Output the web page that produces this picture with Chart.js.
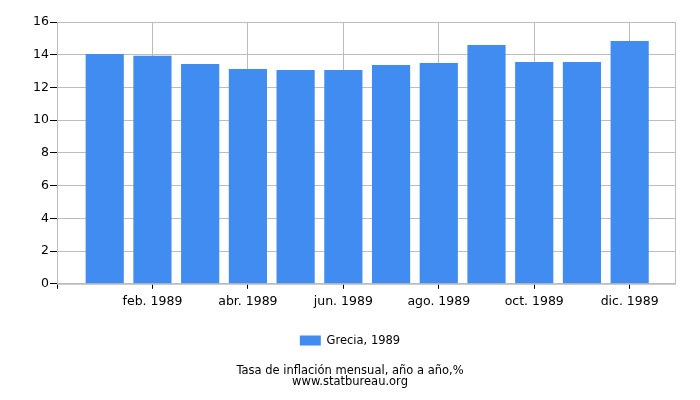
<!DOCTYPE html>
<html>
<head>
<meta charset="utf-8">
<script src="https://cdn.jsdelivr.net/npm/chart.js@4.4.0/dist/chart.umd.min.js"></script>
<style>
  html, body { margin: 0; padding: 0; background: #fff; }
  #wrap { width: 700px; height: 400px; }
</style>
</head>
<body>
<div id="wrap"><canvas id="chart" width="700" height="400"></canvas></div>
<script>
// Chart data
const months = ["ene. 1989", "feb. 1989", "mar. 1989", "abr. 1989", "may. 1989", "jun. 1989",
                "jul. 1989", "ago. 1989", "sep. 1989", "oct. 1989", "nov. 1989", "dic. 1989"];
const inflation = [14.05, 13.93, 13.43, 13.12, 13.06, 13.06, 13.37, 13.49, 14.6, 13.55, 13.55, 14.84];
const seriesLabel = "Grecia, 1989";
const titleLines = ["Tasa de inflación mensual, año a año,%", "www.statbureau.org"];

const FONT = "'DejaVu Sans', sans-serif";
const GRID = "#bdbdbd";
const RIGHT_PAD = 25;

// light frame round the plot area
const frame = {
    id: "frame",
    beforeDatasetsDraw(chart) {
        const { ctx, chartArea: a } = chart;
        ctx.save();
        ctx.strokeStyle = GRID;
        ctx.lineWidth = 1;
        ctx.strokeRect(a.left + 0.5, a.top + 0.5, a.right - a.left, a.bottom - a.top);
        ctx.restore();
    }
};

// centre legend and title on the whole canvas, not on the padded box
const recentre = {
    id: "recentre",
    afterLayout(chart) {
        [chart.legend, chart.titleBlock].forEach(b => {
            if (!b) return;
            b.left += RIGHT_PAD / 2;
            b.right += RIGHT_PAD / 2;
        });
    }
};

new Chart(document.getElementById("chart"), {
    type: "bar",
    data: {
        datasets: [{
            label: seriesLabel,
            data: inflation.map((v, i) => ({ x: i + 1, y: v })),
            backgroundColor: "#418cf0",
            borderWidth: 0,
            barPercentage: 0.8,
            categoryPercentage: 1
        }]
    },
    options: {
        responsive: false,
        animation: false,
        layout: { padding: { top: 22, right: RIGHT_PAD, left: 0, bottom: 13 } },
        scales: {
            x: {
                type: "linear",
                min: 0,
                max: 12.95,
                offset: false,
                afterFit: s => { s.height = 51; },
                ticks: {
                    stepSize: 2,
                    includeBounds: false,
                    autoSkip: false,
                    maxRotation: 0,
                    color: "#000",
                    font: { family: FONT, size: 12.5 },
                    padding: 5,
                    callback: v => (v === 0 ? "" : months[v - 1])
                },
                grid: { offset: false, color: GRID, tickColor: "#000", tickLength: 5 },
                border: { color: GRID }
            },
            y: {
                min: 0,
                max: 16,
                afterFit: s => { s.width = 57; },
                ticks: {
                    stepSize: 2,
                    color: "#000",
                    font: { family: FONT, size: 12.5 },
                    padding: 1
                },
                grid: { color: GRID, tickColor: "#000", tickLength: 7 },
                border: { color: GRID }
            }
        },
        plugins: {
            legend: {
                position: "bottom",
                labels: {
                    boxWidth: 21,
                    boxHeight: 10,
                    color: "#000",
                    font: { family: FONT, size: 11.5 },
                    padding: 0
                }
            },
            title: {
                display: true,
                position: "bottom",
                text: titleLines,
                color: "#000",
                font: { family: FONT, size: 11.5, weight: "normal", lineHeight: 0.9 },
                padding: { top: 10, bottom: 0 }
            },
            tooltip: { enabled: false }
        }
    },
    plugins: [frame, recentre]
});
</script>
</body>
</html>
